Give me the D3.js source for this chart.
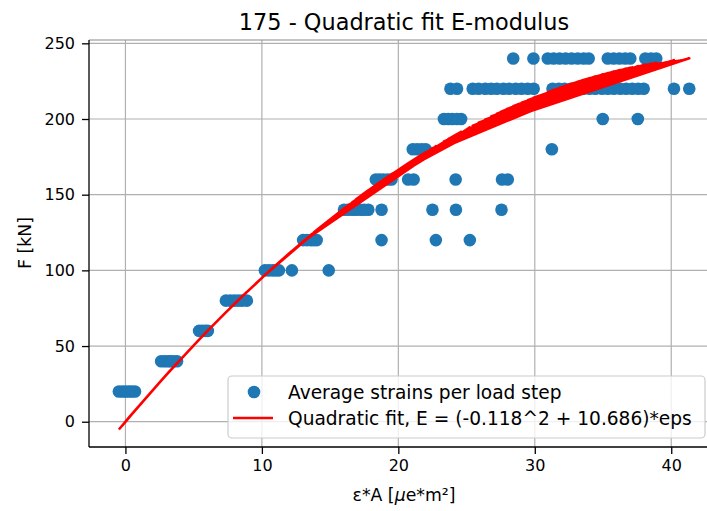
<!DOCTYPE html>
<html>
<head>
<meta charset="utf-8">
<script src="https://cdn.jsdelivr.net/npm/d3@7"></script>
<style>
  body { margin: 0; background: #fff; }
  text { font-family: "DejaVu Sans", sans-serif; }
</style>
</head>
<body>
<svg id="chart" width="707" height="511"></svg>
<script>
// Load steps [kN] and the averaged strain*area values recorded at each step (in recorded order)
const loadLevels = [20, 40, 60, 80, 100, 120, 140, 160, 180, 200, 220, 240];
const strain020 = [-0.48, 0.70, -0.22, 0.46, 0.02, 0.25];
const strain040 = [2.62, 3.78, 2.88, 3.52, 3.12, 3.30];
const strain060 = [5.40, 6.04, 5.62, 5.85];
const strain080 = [7.36, 8.90, 7.68, 8.55, 7.98, 8.27];
const strain100 = [10.22, 14.90, 10.50, 12.20, 10.78, 11.25, 11.02];
const strain120 = [13.02, 25.24, 13.30, 22.75, 13.58, 18.77, 13.80, 14.02];
const strain140 = [16.02, 27.56, 16.30, 24.22, 16.62, 22.50, 16.90, 18.77, 17.22, 17.80, 17.50];
const strain160 = [19.50, 28.02, 18.62, 27.60, 19.22, 24.20, 18.90, 21.12, 20.72, 18.35];
const strain180 = [31.25, 21.38, 22.00, 21.70, 21.06];
const strain200 = [37.55, 23.34, 34.98, 23.66, 24.60, 23.95, 24.30];
const strain220 = [23.82, 41.32, 26.37, 40.20, 24.30, 37.98, 27.70, 37.58, 25.45, 37.14, 28.60, 36.70,
                   25.88, 36.27, 26.80, 35.80, 29.03, 35.36, 27.22, 34.93, 29.92, 34.44, 28.12, 34.02,
                   31.30, 33.57, 29.48, 33.08, 31.76, 32.66, 32.18];
const strain240 = [28.42, 38.90, 29.90, 38.52, 30.95, 38.10, 31.38, 37.00, 31.82, 36.62, 32.26, 36.20,
                   32.70, 35.78, 33.15, 35.35, 33.58, 33.95];
const strainsPerLevel = [strain020, strain040, strain060, strain080, strain100, strain120,
                         strain140, strain160, strain180, strain200, strain220, strain240];

// Quadratic fit coefficients: F = a*eps^2 + b*eps
const fitA = -0.118;
const fitB = 10.686;

// Axis limits and ticks
const xLimits = [-2.67, 43.5];
const yLimits = [-16.7, 252.2];
const xTicks = [0, 10, 20, 30, 40];
const yTicks = [0, 50, 100, 150, 200, 250];

const titleText = "175 - Quadratic fit E-modulus";
const pointLabel = "Average strains per load step";
const fitLabel = "Quadratic fit, E = (" + fitA + "^2 + " + fitB + ")*eps";

const fit = e => fitA * e * e + fitB * e;

// Flatten to (strain, load) pairs in recorded order; the fit is evaluated at each strain
const points = [];
strainsPerLevel.forEach((arr, i) => arr.forEach(e => points.push({ x: e, y: loadLevels[i] })));
const fitPoints = points.map(p => ({ x: p.x, y: fit(p.x) }));

// The fit polyline follows the recorded order, so its chords sweep a band under the curve.
// Sample the lowest chord at each strain to shade that band as one solid shape.
const segments = d3.pairs(fitPoints);
const [eMin, eMax] = d3.extent(fitPoints, d => d.x);
const band = d3.range(eMin, eMax, 0.05).concat([eMax]).map(e => {
  let lo = fit(e);
  for (const [a, b] of segments) {
    const s0 = Math.min(a.x, b.x), s1 = Math.max(a.x, b.x);
    if (s1 > s0 && e >= s0 && e <= s1) {
      const v = a.y + (e - a.x) / (b.x - a.x) * (b.y - a.y);
      if (v < lo) lo = v;
    }
  }
  return { x: e, lo: lo, hi: fit(e) };
});

const svg = d3.select("#chart");
const L = 89, R = 719, T = 40, B = 447;
const x = d3.scaleLinear().domain(xLimits).range([L, R]);
const y = d3.scaleLinear().domain(yLimits).range([B, T]);

svg.append("defs").append("clipPath").attr("id", "plotArea")
  .append("rect").attr("x", L).attr("y", T).attr("width", R - L).attr("height", B - T);

// Grid
const grid = svg.append("g");
grid.selectAll(".gx").data(xTicks).join("line")
  .attr("x1", d => x(d)).attr("x2", d => x(d)).attr("y1", T).attr("y2", B)
  .attr("stroke", "#b0b0b0").attr("stroke-width", 1.2);
grid.selectAll(".gy").data(yTicks).join("line")
  .attr("y1", d => y(d)).attr("y2", d => y(d)).attr("x1", L).attr("x2", R)
  .attr("stroke", "#b0b0b0").attr("stroke-width", 1.2);

// Data points, then the fit line on top
const plot = svg.append("g").attr("clip-path", "url(#plotArea)");
plot.selectAll("circle").data(points).join("circle")
  .attr("cx", d => x(d.x)).attr("cy", d => y(d.y)).attr("r", 6.3)
  .attr("fill", "#1f77b4");

plot.append("path").datum(band)
  .attr("d", d3.area().x(d => x(d.x)).y0(d => y(d.lo)).y1(d => y(d.hi)))
  .attr("fill", "#ff0000");

plot.append("path").datum(fitPoints)
  .attr("d", d3.line().x(d => x(d.x)).y(d => y(d.y)))
  .attr("fill", "none").attr("stroke", "#ff0000").attr("stroke-width", 2.6)
  .attr("stroke-linejoin", "round");

// Axes
const xAxis = svg.append("g").attr("transform", `translate(0,${B})`)
  .call(d3.axisBottom(x).tickValues(xTicks).tickFormat(d3.format("d"))
    .tickSize(7).tickPadding(6).tickSizeOuter(0));
const yAxis = svg.append("g").attr("transform", `translate(${L},0)`)
  .call(d3.axisLeft(y).tickValues(yTicks).tickFormat(d3.format("d"))
    .tickSize(7).tickPadding(7).tickSizeOuter(0));
[xAxis, yAxis].forEach(g => {
  g.select(".domain").remove();
  g.selectAll(".tick line").attr("stroke", "#000").attr("stroke-width", 1.3);
  g.selectAll(".tick text").attr("fill", "#000").style("font-size", "16px")
    .style("font-family", "DejaVu Sans, sans-serif");
});

// Spines
svg.append("line").attr("x1", L).attr("x2", R).attr("y1", T).attr("y2", T)
  .attr("stroke", "#8a8a8a").attr("stroke-width", 1.1);
svg.append("line").attr("x1", L).attr("x2", L).attr("y1", T).attr("y2", B)
  .attr("stroke", "#000").attr("stroke-width", 1.3);
svg.append("line").attr("x1", L).attr("x2", R).attr("y1", B).attr("y2", B)
  .attr("stroke", "#000").attr("stroke-width", 1.3);

// Title and axis labels
svg.append("text").attr("x", (L + R) / 2).attr("y", 30).attr("text-anchor", "middle")
  .style("font-size", "22.4px").text(titleText);

const xl = svg.append("text").attr("x", (L + R) / 2).attr("y", 501).attr("text-anchor", "middle")
  .style("font-size", "17.3px");
xl.append("tspan").text("ε*A [");
xl.append("tspan").style("font-style", "italic").text("μ");
xl.append("tspan").text("e*m²]");

svg.append("text").attr("transform", "translate(31,243) rotate(-90)")
  .attr("text-anchor", "middle").style("font-size", "17.3px").text("F [kN]");

// Legend
const lg = svg.append("g");
lg.append("rect").attr("x", 228).attr("y", 376).attr("width", 477).attr("height", 62)
  .attr("rx", 4).attr("fill", "#fff").attr("fill-opacity", 0.8)
  .attr("stroke", "#cccccc").attr("stroke-width", 1.2);
lg.append("circle").attr("cx", 254).attr("cy", 392).attr("r", 6.3).attr("fill", "#1f77b4");
lg.append("line").attr("x1", 233).attr("x2", 273).attr("y1", 418).attr("y2", 418)
  .attr("stroke", "#ff0000").attr("stroke-width", 2.6);
lg.append("text").attr("x", 288).attr("y", 398.5).style("font-size", "18.6px").text(pointLabel);
lg.append("text").attr("x", 288).attr("y", 424.5).style("font-size", "18.6px").text(fitLabel);
</script>
</body>
</html>
